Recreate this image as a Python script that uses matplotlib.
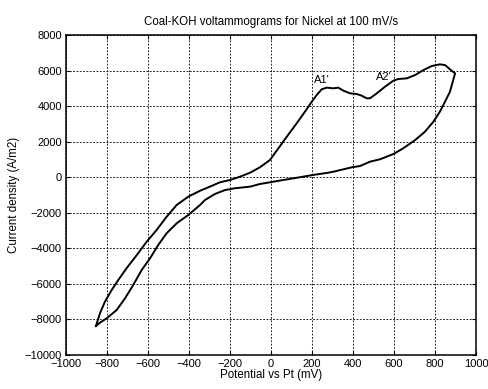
import matplotlib
matplotlib.use("Agg")
import matplotlib.pyplot as plt

plt.rcParams['font.family'] = ['Liberation Sans', 'DejaVu Sans']

# Anodic (forward) sweep: potential (mV) and current density (A/m2)
fwd_potential = [-854, -834, -810, -777, -745, -704, -655, -606, -558, -509,
                 -460, -403, -346, -298, -249, -200, -151, -102, -54, -5,
                 30, 77, 125, 166, 199, 223, 247, 272, 304, 328,
                 353, 385, 418, 440, 467, 483, 516, 556, 597, 621,
                 662, 703, 744, 784, 824, 849, 873, 898]
fwd_current = [-8370, -7640, -7000, -6340, -5780, -5110, -4380, -3620, -2970, -2220,
               -1560, -1090, -760, -530, -285, -155, 30, 255, 560, 970,
               1530, 2280, 3030, 3690, 4250, 4625, 4945, 5040, 5000, 5040,
               4870, 4720, 4680, 4600, 4440, 4440, 4720, 5090, 5430, 5525,
               5560, 5750, 6030, 6255, 6350, 6310, 6070, 5845]

# Cathodic (return) sweep
rev_potential = [898, 889, 873, 849, 824, 792, 751, 703, 645, 597,
                 532, 483, 434, 395, 304, 280, 206, 141, 60, -5,
                 -54, -102, -176, -224, -273, -322, -346, -403, -460, -509,
                 -550, -590, -631, -672, -712, -753, -801, -834, -854]
rev_current = [5845, 5470, 4810, 4250, 3690, 3120, 2560, 2090, 1625, 1305,
               1010, 875, 630, 560, 310, 255, 130, 0, -155, -285,
               -380, -530, -620, -720, -940, -1280, -1560, -2120, -2590, -3150,
               -3810, -4560, -5220, -6060, -6810, -7470, -7930, -8180, -8370]

peak_labels = ["A1'", "A2'"]
peak_label_pos = [(210, 5200), (510, 5380)]

x_ticks = list(range(-1000, 1001, 200))
y_ticks = list(range(-10000, 8001, 2000))

fig = plt.figure(figsize=(4.89, 3.89), dpi=100)
ax = fig.add_axes([0.135, 0.0874, 0.8384, 0.8226])

ax.plot(fwd_potential + rev_potential, fwd_current + rev_current,
        color='black', lw=1.4, solid_joinstyle='round')

for text, (px, py) in zip(peak_labels, peak_label_pos):
    ax.text(px, py, text, fontsize=8, ha='left', va='bottom')

ax.set_xlim(-1000, 1000)
ax.set_ylim(-10000, 8000)
ax.set_xticks(x_ticks)
ax.set_yticks(y_ticks)
ax.grid(True, color='black', lw=0.6, linestyle=(0, (2.2, 1.8)))
ax.tick_params(direction='in', length=3, width=0.8, labelsize=8,
               top=True, right=True)
ax.tick_params(axis='x', pad=3)
ax.tick_params(axis='y', pad=3)
for s in ax.spines.values():
    s.set_linewidth(1.1)

ax.set_title('Coal-KOH voltammograms for Nickel at 100 mV/s', fontsize=8.3, pad=7)
ax.set_xlabel('Potential vs Pt (mV)', fontsize=8.3, labelpad=0)
ax.set_ylabel('Current density (A/m2)', fontsize=8.3, labelpad=3)

fig.savefig('out.png', dpi=100)
